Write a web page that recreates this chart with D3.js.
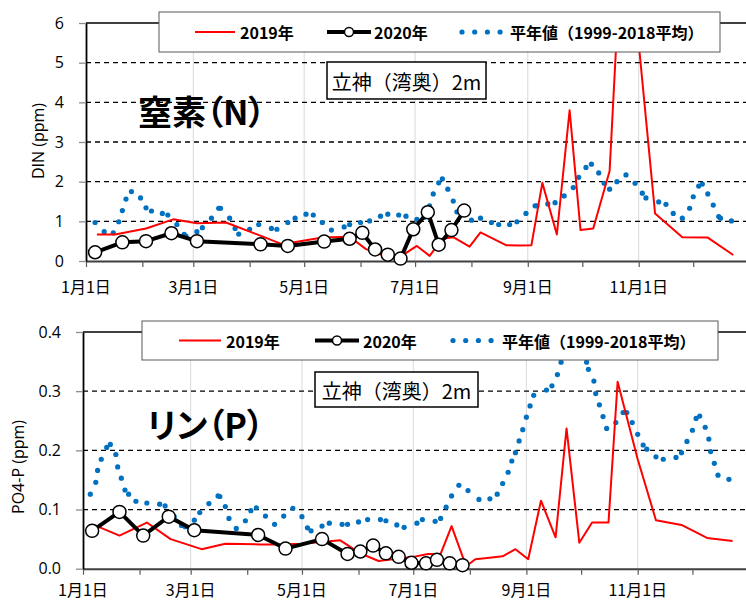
<!DOCTYPE html>
<html>
<head>
<meta charset="utf-8">
<script src="https://cdn.jsdelivr.net/npm/d3@7"></script>
<style>
body { margin: 0; background: #fff; }
svg text { font-family: "Noto Sans CJK JP", "Noto Sans", sans-serif; fill: #000; }
</style>
</head>
<body>
<svg id="chart" width="746" height="602"></svg>
<script>
// x values: day of year, 0 = 1月1日
var xTickMonths = [0, 2, 4, 6, 8, 10];
var xTickLabels = ["1月1日", "3月1日", "5月1日", "7月1日", "9月1日", "11月1日"];
var dinTicks = [0, 1, 2, 3, 4, 5, 6];
var po4Ticks = [0, 0.1, 0.2, 0.3, 0.4];
var legendLabels = ["2019年", "2020年", "平年値（1999-2018平均）"];

// 2020 sampling days (same for both panels)
var day2020 = [5, 20, 33, 47, 61, 96, 111, 131, 145, 152, 159, 166, 173, 180, 188, 194, 201, 208];
var din2020 = [0.22, 0.47, 0.50, 0.70, 0.50, 0.42, 0.38, 0.49, 0.56, 0.71, 0.29, 0.16, 0.06, 0.80, 1.23, 0.41, 0.78, 1.27];
var po42020 = [0.064, 0.096, 0.056, 0.088, 0.065, 0.057, 0.034, 0.050, 0.025, 0.029, 0.039, 0.026, 0.020, 0.010, 0.009, 0.015, 0.009, 0.006];

// 2019
var din2019Day = [6, 16, 33, 48, 61, 77, 97, 108, 130, 145, 154, 166, 174, 182, 189, 196, 202, 211, 217, 231, 238, 245, 251, 259, 266, 272, 279, 288, 296, 313, 328, 342, 356];
var din2019 = [0.67, 0.67, 0.82, 1.05, 0.95, 0.97, 0.62, 0.42, 0.59, 0.61, 0.30, 0.10, 0.14, 0.38, 0.13, 0.56, 0.60, 0.36, 0.72, 0.40, 0.39, 0.40, 1.97, 0.67, 3.80, 0.78, 0.82, 2.27, 9.3, 1.20, 0.60, 0.59, 0.15];
var po42019Day = [6, 20, 35, 48, 65, 78, 97, 108, 120, 141, 152, 162, 181, 189, 196, 202, 210, 215, 224, 230, 237, 244, 251, 259, 265, 272, 279, 288, 293, 304, 314, 328, 342, 356];
var po42019 = [0.074, 0.056, 0.078, 0.050, 0.033, 0.042, 0.041, 0.041, 0.042, 0.048, 0.026, 0.013, 0.020, 0.025, 0.025, 0.072, 0.004, 0.016, 0.019, 0.021, 0.033, 0.016, 0.115, 0.053, 0.237, 0.044, 0.078, 0.078, 0.316, 0.185, 0.082, 0.074, 0.052, 0.047];

// 平年値 (1999-2018)
var dinNormalDay = [5, 10, 15, 18, 20, 22, 25, 30, 33, 36, 42, 45, 50, 54, 55, 61, 64, 69, 73, 74, 79, 82, 84, 90, 95, 102, 105, 111, 115, 121, 125, 130, 135, 142, 145, 151, 156, 162, 166, 172, 176, 182, 186, 189, 191, 194, 196, 199, 202, 204, 212, 217, 223, 227, 233, 237, 242, 247, 248, 254, 258, 263, 268, 271, 275, 278, 282, 285, 288, 292, 297, 302, 306, 308, 315, 319, 323, 328, 332, 334, 337, 339, 342, 345, 348, 349, 355];
var dinNormal = [0.97, 0.74, 0.71, 0.99, 1.27, 1.56, 1.75, 1.59, 1.34, 1.26, 1.20, 1.16, 0.92, 0.67, 0.63, 0.74, 0.84, 1.08, 1.33, 1.33, 1.08, 0.82, 0.68, 0.80, 0.92, 0.82, 0.80, 0.97, 1.08, 1.18, 1.16, 0.97, 0.78, 0.86, 0.92, 0.97, 1.01, 1.13, 1.18, 1.16, 1.13, 1.05, 1.10, 1.39, 1.69, 1.97, 2.07, 1.81, 1.51, 1.24, 1.03, 1.08, 0.97, 0.92, 0.92, 0.99, 1.20, 1.39, 1.39, 1.44, 1.47, 1.64, 1.85, 2.11, 2.36, 2.44, 2.22, 1.96, 1.81, 2.00, 2.17, 1.96, 1.71, 1.59, 1.49, 1.43, 1.20, 1.08, 1.33, 1.62, 1.89, 1.94, 1.69, 1.41, 1.12, 1.08, 1.01];
var po4NormalDay = [4, 7, 8, 10, 13, 15, 18, 19, 21, 23, 25, 29, 35, 42, 45, 50, 54, 56, 61, 64, 69, 74, 75, 78, 80, 84, 89, 92, 95, 100, 105, 110, 115, 120, 123, 125, 131, 135, 142, 145, 151, 156, 163, 166, 172, 176, 183, 186, 193, 196, 199, 202, 206, 211, 217, 223, 227, 230, 233, 235, 237, 239, 241, 243, 245, 247, 254, 257, 260, 262, 264, 266, 269, 272, 274, 276, 277, 280, 281, 283, 285, 287, 292, 296, 298, 301, 304, 307, 309, 314, 318, 325, 328, 331, 334, 336, 338, 341, 343, 344, 346, 348, 354];
var po4Normal = [0.126, 0.146, 0.166, 0.185, 0.205, 0.210, 0.193, 0.172, 0.153, 0.133, 0.126, 0.114, 0.111, 0.109, 0.106, 0.088, 0.073, 0.071, 0.082, 0.095, 0.110, 0.123, 0.122, 0.105, 0.085, 0.068, 0.081, 0.098, 0.103, 0.089, 0.075, 0.089, 0.102, 0.088, 0.069, 0.064, 0.072, 0.077, 0.075, 0.075, 0.079, 0.083, 0.083, 0.081, 0.074, 0.070, 0.077, 0.083, 0.080, 0.085, 0.104, 0.123, 0.141, 0.132, 0.117, 0.118, 0.126, 0.144, 0.163, 0.182, 0.196, 0.216, 0.235, 0.256, 0.275, 0.293, 0.302, 0.309, 0.328, 0.349, 0.368, 0.380, 0.385, 0.380, 0.370, 0.349, 0.337, 0.317, 0.296, 0.277, 0.257, 0.237, 0.247, 0.264, 0.264, 0.247, 0.227, 0.209, 0.202, 0.189, 0.185, 0.188, 0.196, 0.215, 0.234, 0.254, 0.258, 0.239, 0.219, 0.198, 0.178, 0.158, 0.151];

var RED = "#ff0000", BLUE = "#0070c0";
var jan1 = new Date(2019, 0, 1);
function dayToDate(d) { return d3.timeDay.offset(jan1, d); }
function pairs(days, vals) {
    return days.map(function(d, i) { return {date: dayToDate(d), v: vals[i]}; });
}

var svg = d3.select("#chart");

function drawPanel(p) {
    var x = d3.scaleTime().domain([jan1, new Date(2020, 0, 1)]).range([p.left, p.right]);
    var y = d3.scaleLinear().domain([0, p.yMax]).range([p.bottom, p.top]);
    var g = svg.append("g");

    // light vertical grid at labelled months
    g.selectAll(".vgrid").data(xTickMonths.slice(1)).enter().append("line")
        .attr("x1", function(m) { return x(new Date(2019, m, 1)); })
        .attr("x2", function(m) { return x(new Date(2019, m, 1)); })
        .attr("y1", p.top).attr("y2", p.bottom)
        .attr("stroke", "#d9d9d9").attr("stroke-width", 1);

    // dashed horizontal grid
    g.selectAll(".hgrid").data(p.yTicks.slice(1, -1)).enter().append("line")
        .attr("x1", p.left).attr("x2", p.right)
        .attr("y1", function(d) { return y(d); }).attr("y2", function(d) { return y(d); })
        .attr("stroke", "#000").attr("stroke-width", 1.3).attr("stroke-dasharray", "5,4");
    g.append("line")
        .attr("x1", p.left).attr("x2", p.right)
        .attr("y1", y(p.yMax)).attr("y2", y(p.yMax))
        .attr("stroke", "#000").attr("stroke-width", 1.5);

    // x axis
    var xAxis = d3.axisBottom(x).ticks(d3.timeMonth.every(1)).tickSize(6).tickSizeOuter(0).tickFormat("");
    var xg = g.append("g").attr("transform", "translate(0," + p.bottom + ")").call(xAxis);
    xg.select(".domain").attr("stroke", "#404040").attr("stroke-width", 2);
    xg.selectAll(".tick line").attr("stroke", "#595959").attr("stroke-width", 1.2);
    g.selectAll(".xlab").data(xTickMonths).enter().append("text")
        .attr("x", function(m) { return x(new Date(2019, m, 1)); })
        .attr("y", p.bottom + p.xlabDy)
        .attr("text-anchor", "middle").attr("dominant-baseline", "central")
        .style("font-size", "16px")
        .text(function(m, i) { return xTickLabels[i]; });

    // y axis
    var yAxis = d3.axisLeft(y).tickValues(p.yTicks).tickSize(7).tickSizeOuter(0).tickPadding(15).tickFormat(p.fmt);
    var yg = g.append("g").attr("transform", "translate(" + p.left + ",0)").call(yAxis);
    yg.select(".domain").attr("stroke", "#000").attr("stroke-width", 1.8);
    yg.selectAll(".tick line").attr("stroke", "#8c8c8c").attr("stroke-width", 1.3);
    yg.selectAll(".tick text").style("font-size", "16px").attr("fill", "#000")
        .style("font-family", "'Open Sans', sans-serif");

    g.append("text")
        .attr("transform", "translate(" + p.ylabX + "," + p.ylabY + ") rotate(-90)")
        .attr("text-anchor", "middle").attr("dominant-baseline", "central")
        .style("font-size", "16px").style("font-family", "'Open Sans', sans-serif")
        .text(p.ylab);

    // data, clipped to the plot area top
    svg.append("clipPath").attr("id", p.id + "clip").append("rect")
        .attr("x", p.left).attr("y", p.top).attr("width", p.right - p.left).attr("height", 602 - p.top);
    var dg = g.append("g").attr("clip-path", "url(#" + p.id + "clip)");

    var line = d3.line().x(function(d) { return x(d.date); }).y(function(d) { return y(d.v); });

    dg.selectAll(".norm").data(pairs(p.normalDay, p.normal)).enter().append("circle")
        .attr("cx", function(d) { return x(d.date); })
        .attr("cy", function(d) { return y(d.v); })
        .attr("r", 2.6).attr("fill", BLUE);

    dg.append("path").datum(pairs(p.day2019, p.val2019))
        .attr("d", line).attr("fill", "none")
        .attr("stroke", RED).attr("stroke-width", 2).attr("stroke-linejoin", "round");

    var d20 = pairs(day2020, p.val2020);
    dg.append("path").datum(d20)
        .attr("d", line).attr("fill", "none")
        .attr("stroke", "#000").attr("stroke-width", 4).attr("stroke-linejoin", "round");
    dg.selectAll(".c20").data(d20).enter().append("circle")
        .attr("cx", function(d) { return x(d.date); })
        .attr("cy", function(d) { return y(d.v); })
        .attr("r", 6.5).attr("fill", "#fff").attr("stroke", "#000").attr("stroke-width", 1.5);

    // legend
    var L = p.legend;
    var lg = svg.append("g");
    lg.append("rect").attr("x", L.x).attr("y", L.y).attr("width", L.w).attr("height", L.h)
        .attr("fill", "#fff").attr("stroke", "#595959").attr("stroke-width", 1);
    var cy = L.y + L.h / 2;
    lg.append("line").attr("x1", L.red[0]).attr("x2", L.red[1]).attr("y1", cy).attr("y2", cy)
        .attr("stroke", RED).attr("stroke-width", 2);
    lg.append("line").attr("x1", L.blk[0]).attr("x2", L.blk[1]).attr("y1", cy).attr("y2", cy)
        .attr("stroke", "#000").attr("stroke-width", 4);
    lg.append("circle").attr("cx", (L.blk[0] + L.blk[1]) / 2).attr("cy", cy).attr("r", 4.5)
        .attr("fill", "#fff").attr("stroke", "#000").attr("stroke-width", 1.5);
    lg.selectAll(".ld").data(d3.range(4)).enter().append("circle")
        .attr("cx", function(i) { return L.dot + i * 12.7; }).attr("cy", cy)
        .attr("r", 2.6).attr("fill", BLUE);
    lg.selectAll(".lt").data(legendLabels).enter().append("text")
        .attr("x", function(d, i) { return L.text[i]; }).attr("y", cy)
        .attr("dominant-baseline", "central")
        .style("font-size", "16px").style("font-weight", "bold")
        .text(function(d) { return d; });

    // station box
    var S = p.station;
    svg.append("rect").attr("x", S.x).attr("y", S.y).attr("width", S.w).attr("height", S.h)
        .attr("fill", "#fff").attr("stroke", "#000").attr("stroke-width", 1.5);
    svg.append("text").attr("x", S.x + S.w / 2).attr("y", S.y + S.h / 2 + 1)
        .attr("text-anchor", "middle").attr("dominant-baseline", "central")
        .style("font-size", "20px").text("立神（湾奥）2m");

    // big title
    svg.append("text").attr("x", p.title.x).attr("y", p.title.y)
        .attr("dominant-baseline", "central")
        .style("font-size", "34px").style("font-weight", "bold")
        .style("font-feature-settings", "'palt'")
        .text(p.title.text);
}

drawPanel({
    id: "din", left: 86, right: 749.6, top: 23, bottom: 261, yMax: 6, xlabDy: 25,
    yTicks: dinTicks, fmt: d3.format("d"), ylab: "DIN (ppm)", ylabX: 38, ylabY: 141,
    day2019: din2019Day, val2019: din2019, val2020: din2020,
    normalDay: dinNormalDay, normal: dinNormal,
    legend: {x: 159, y: 12, w: 561, h: 40, red: [195, 235], blk: [327, 371], dot: 462, text: [240, 374, 510]},
    station: {x: 327, y: 62, w: 159, h: 37},
    title: {x: 138, y: 110, text: "窒素（N）"}
});
drawPanel({
    id: "po4", left: 83, right: 749, top: 332, bottom: 568.7, yMax: 0.4, xlabDy: 20.5,
    yTicks: po4Ticks, fmt: d3.format(".1f"), ylab: "PO4-P (ppm)", ylabX: 18, ylabY: 467,
    day2019: po42019Day, val2019: po42019, val2020: po42020,
    normalDay: po4NormalDay, normal: po4Normal,
    legend: {x: 142, y: 321, w: 576, h: 39, red: [179, 221], blk: [315, 359], dot: 453, text: [226, 363, 502]},
    station: {x: 315, y: 372, w: 163, h: 35},
    title: {x: 147, y: 423, text: "リン（P）"}
});
</script>
</body>
</html>
